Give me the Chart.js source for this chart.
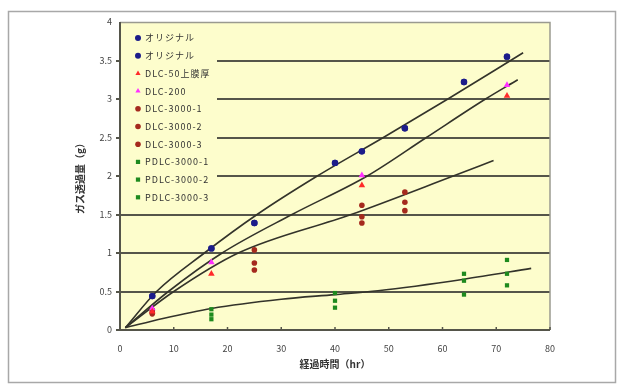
<!DOCTYPE html>
<html><head><meta charset="utf-8">
<script src="https://cdn.jsdelivr.net/npm/chart.js@4/dist/chart.umd.min.js"></script>
<style>html,body{margin:0;padding:0;background:#fff}#wrap{width:624px;height:384px;position:relative}</style>
</head><body><div id="wrap"><canvas id="c" width="624" height="384"></canvas></div>
<script>
// ---- data ----
const xTickLabels = [0,10,20,30,40,50,60,70,80];
const yTickLabels = [0,0.5,1,1.5,2,2.5,3,3.5,4];
const seriesNames = ['オリジナル','オリジナル','DLC-50上膜厚','DLC-200','DLC-3000-1','DLC-3000-2','DLC-3000-3','PDLC-3000-1','PDLC-3000-2','PDLC-3000-3'];

const origX   = [6,17,25,40,45,53,64,72];
const orig1   = [0.44,1.06,1.39,2.17,2.32,2.62,3.22,3.55];
const orig2   = [0.44,1.06,1.39,2.17,2.32,2.62,3.22,3.55];
const dlcX    = [6,17,45,72];
const dlc50   = [0.24,0.73,1.88,3.04];
const dlc200  = [0.28,0.88,2.01,3.18];
const d3000X  = [6,25,45,53];
const d3000_1 = [0.26,1.04,1.62,1.79];
const d3000_2 = [0.23,0.87,1.47,1.66];
const d3000_3 = [0.21,0.78,1.39,1.55];
const pdlcX   = [17,40,64,72];
const pdlc_1  = [0.27,0.48,0.73,0.91];
const pdlc_2  = [0.20,0.38,0.64,0.73];
const pdlc_3  = [0.14,0.29,0.46,0.58];

// trend curves
const trend1X = [1,6.8,15.7,25.5,36.7,49,61,75];
const trend1Y = [0.03,0.5,1.0,1.5,2.0,2.5,3.0,3.6];
const trend2X = [1,9,19,32,46,57,68,74];
const trend2Y = [0.03,0.5,1.0,1.5,2.0,2.5,3.0,3.25];
const trend3X = [1,10,22,43,62,69.5];
const trend3Y = [0.03,0.5,1.0,1.5,2.0,2.2];
const trend4X = [1,8,17,30,40,48,64,76.5];
const trend4Y = [0.03,0.15,0.28,0.4,0.46,0.51,0.66,0.8];

const pts = (xs, ys) => xs.map((x,i)=>({x:x, y:ys[i]}));

const NAVY='#1c1c8a', RED='#ff2a2a', MAG='#ff30ff', DRED='#a52a1e', GRN='#1e8a1e', LINE='#33332a';
const scatterSpecs = [
  [orig1, origX, NAVY, 'circle', 3.2],
  [orig2, origX, NAVY, 'circle', 3.2],
  [dlc50, dlcX, RED, 'triangle', 3.8],
  [dlc200, dlcX, MAG, 'triangle', 3.8],
  [d3000_1, d3000X, DRED, 'circle', 2.8],
  [d3000_2, d3000X, DRED, 'circle', 2.8],
  [d3000_3, d3000X, DRED, 'circle', 2.8],
  [pdlc_1, pdlcX, GRN, 'rect', 3],
  [pdlc_2, pdlcX, GRN, 'rect', 3],
  [pdlc_3, pdlcX, GRN, 'rect', 3],
];
const datasets = scatterSpecs.map((s,i)=>({
  type:'scatter', label: seriesNames[i], data: pts(s[1], s[0]),
  backgroundColor: s[2], borderColor: s[2], pointStyle: s[3], pointRadius: s[4], borderWidth:0, order:1
}));
[[trend1X,trend1Y],[trend2X,trend2Y],[trend3X,trend3Y],[trend4X,trend4Y]].forEach(t=>{
  datasets.push({type:'line', label:'_trend', data: pts(t[0],t[1]), borderColor: LINE, borderWidth:1.6,
    pointRadius:0, fill:false, cubicInterpolationMode:'monotone', order:2});
});

const PLOT_BG = '#fdfdcc';
const bgPlugin = {
  id:'bg',
  beforeDraw(chart){
    const {ctx, chartArea:a} = chart;
    ctx.save();
    ctx.strokeStyle='#a8a8a8'; ctx.lineWidth=1.5;
    ctx.strokeRect(8.5,11.5,607,371);
    ctx.fillStyle=PLOT_BG;
    ctx.fillRect(a.left,a.top,a.right-a.left,a.bottom-a.top);
    ctx.restore();
  },
  beforeDatasetsDraw(chart){
    const {ctx, chartArea:a} = chart;
    ctx.save();
    ctx.fillStyle=PLOT_BG;
    ctx.fillRect(a.left+1, a.top+1, 216-a.left, 204-a.top);
    ctx.strokeStyle='#9a9a90'; ctx.lineWidth=1.5;
    ctx.beginPath(); ctx.moveTo(a.left,a.top+0.5); ctx.lineTo(a.right,a.top+0.5); ctx.lineTo(a.right,a.bottom); ctx.stroke();
    ctx.strokeStyle='#55554a'; ctx.lineWidth=2;
    ctx.beginPath(); ctx.moveTo(a.left,a.top); ctx.lineTo(a.left,a.bottom); ctx.lineTo(a.right,a.bottom); ctx.stroke();
    const xs = chart.scales.x;
    ctx.lineWidth=1.5;
    xTickLabels.forEach(v=>{ const px=xs.getPixelForValue(v); ctx.beginPath(); ctx.moveTo(px,a.bottom); ctx.lineTo(px,a.bottom-3); ctx.stroke(); });
    // legend
    const x0 = a.left+18, y0 = a.top+16, step = 17.7;
    ctx.font = '9px "Noto Sans CJK JP", "DejaVu Sans", sans-serif';
    if ('letterSpacing' in ctx) ctx.letterSpacing = '1px';
    ctx.textBaseline='middle';
    scatterSpecs.forEach((s,i)=>{
      const y = y0 + i*step;
      ctx.fillStyle = s[2];
      Chart.helpers.drawPoint(ctx, {pointStyle:s[3], radius: Math.min(s[4],3), borderWidth:0, rotation:0}, x0, y);
      ctx.fillStyle='#333';
      ctx.fillText(seriesNames[i], x0+7, y);
    });
    ctx.restore();
  }
};

Chart.defaults.font.family = '"Noto Sans CJK JP", "DejaVu Sans", sans-serif';
new Chart(document.getElementById('c'), {
  data:{datasets},
  options:{
    responsive:false, animation:false,
    layout:{padding:{left:74,right:74,top:22,bottom:10}},
    plugins:{legend:{display:false}, tooltip:{enabled:false}},
    scales:{
      x:{type:'linear', min:0, max:80,
        afterFit(s){ s.height = 44; },
        afterBuildTicks(s){ s.ticks = xTickLabels.map(v=>({value:v})); },
        grid:{drawOnChartArea:false, drawTicks:false},
        border:{display:false},
        ticks:{color:'#444', font:{size:9}, padding:13, callback:v=>String(v)},
        title:{display:true, text:'経過時間（hr）', color:'#333', font:{size:10, weight:'bold'}, padding:{top:2,bottom:4}}
      },
      y:{type:'linear', min:0, max:4,
        afterFit(s){ s.width = 46; },
        afterBuildTicks(s){ s.ticks = yTickLabels.map(v=>({value:v})); },
        grid:{color:(c)=> c.tick && c.tick.value===4 ? 'rgba(0,0,0,0)' : '#55554a', lineWidth:2, drawTicks:true, tickLength:4},
        border:{display:false},
        ticks:{color:'#444', font:{size:9}, padding:4, callback:v=>String(v)},
        title:{display:true, text:'ガス透過量（g）', color:'#333', font:{size:10, weight:'bold'}, padding:{top:0,bottom:2}}
      }
    }
  },
  plugins:[bgPlugin]
});
</script></body></html>
